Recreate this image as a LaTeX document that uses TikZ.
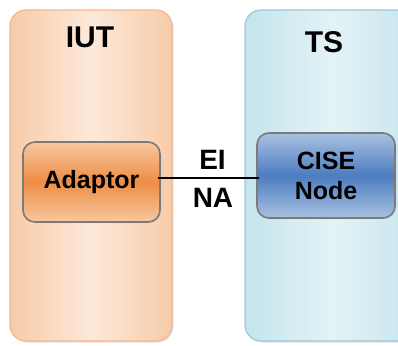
\documentclass[tikz,border=0pt]{standalone}
\usepackage{fontspec}
\setmainfont{Liberation Sans}
\usetikzlibrary{shadows}
\definecolor{iutedge}{HTML}{F3B890}
\definecolor{iutfill}{HTML}{FDE9DA}
\definecolor{iutside}{HTML}{F7CBA8}
\definecolor{tsedge}{HTML}{9CCBD8}
\definecolor{tsfill}{HTML}{E3F3F7}
\definecolor{tsside}{HTML}{C4E4EC}
\definecolor{adlight}{HTML}{F8C8A0}
\definecolor{addark}{HTML}{EE8D45}
\definecolor{cslight}{HTML}{A9C1E2}
\definecolor{csdark}{HTML}{4C7DBF}
\definecolor{innerborder}{HTML}{7A7A7A}
\tikzset{
  container/.style={rounded corners=16pt, line width=1.2pt, inner sep=0pt,
    drop shadow={shadow xshift=1.5pt, shadow yshift=-1.5pt, opacity=0.25}},
  iutbox/.style={container, draw=iutedge, left color=iutside, right color=iutside, middle color=iutfill, shading angle=90},
  tsbox/.style={container, draw=tsedge, left color=tsside, right color=tsside, middle color=tsfill, shading angle=90},
  unitbox/.style={rounded corners=12pt, line width=1.6pt, draw=innerborder, inner sep=0pt,
    align=center, font=\bfseries\fontsize{25}{30}\selectfont,
    drop shadow={shadow xshift=1pt, shadow yshift=-1pt, opacity=0.2}},
  adaptorbox/.style={unitbox, top color=adlight, bottom color=adlight, middle color=addark},
  cisebox/.style={unitbox, top color=cslight, bottom color=cslight, middle color=csdark},
  title/.style={font=\bfseries\fontsize{30}{30}\selectfont},
  iflabel/.style={font=\bfseries\fontsize{28}{28}\selectfont},
  link/.style={line width=1.1pt, draw=black}
}
\begin{document}
\begin{tikzpicture}[x=1pt, y=-1pt]
  \useasboundingbox (0,0) rectangle (398,345);
  \clip (0,0) rectangle (398,345);
  % the two sides
  \node[iutbox, minimum width=162pt, minimum height=331pt] (iutside) at (91,175.5) {};
  \node[tsbox, minimum width=175pt, minimum height=331pt] (tsside) at (332.5,175.5) {};
  \node[title] (iut) at (90,37) {IUT};
  \node[title] (ts) at (324,42) {TS};
  % components
  \node[adaptorbox, minimum width=137pt, minimum height=80pt] (adaptor) at (91.5,182) {Adaptor};
  \node[cisebox, minimum width=138pt, minimum height=85pt] (cise) at (326,175.5) {CISE\\Node};
  % interface between them
  \draw[link] ([xshift=-3pt, yshift=4pt]adaptor.east) -- ([xshift=3pt, yshift=-2.5pt]cise.west);
  \node[iflabel] (ei) at (212.5,160) {EI};
  \node[iflabel] (na) at (213,197.5) {NA};
\end{tikzpicture}
\end{document}
